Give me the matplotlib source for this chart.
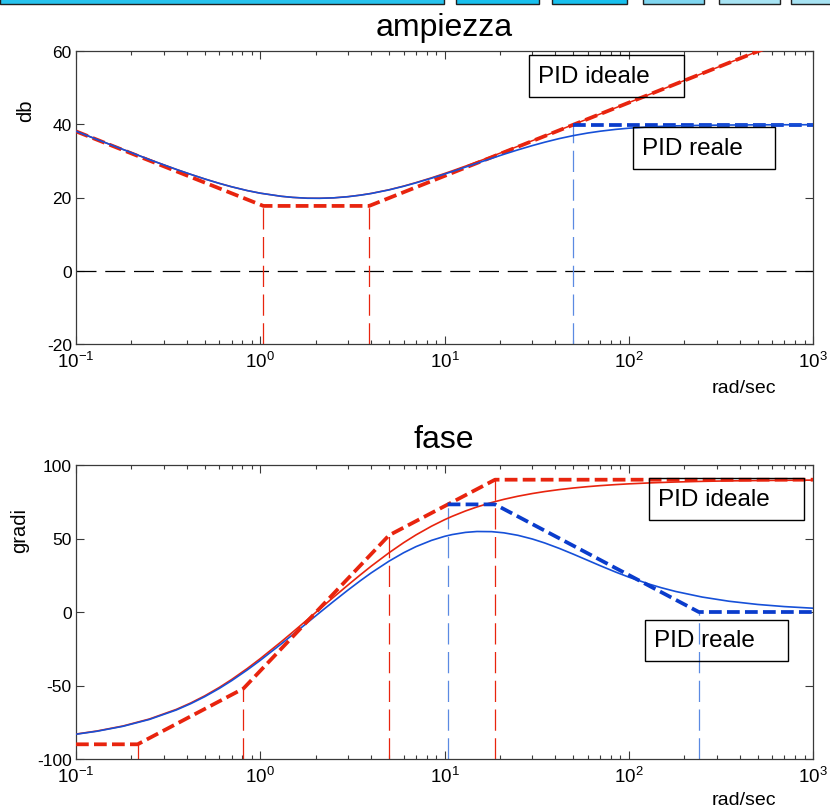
import numpy as np
import matplotlib
matplotlib.use("Agg")
import matplotlib.pyplot as plt
from matplotlib.patches import Rectangle
from matplotlib.ticker import LogLocator, FixedLocator, NullFormatter

plt.rcParams['font.family'] = ['Liberation Sans', 'DejaVu Sans']
plt.rcParams['mathtext.fontset'] = 'custom'
plt.rcParams['mathtext.rm'] = 'Liberation Sans'
plt.rcParams['mathtext.it'] = 'Liberation Sans:italic'
plt.rcParams['mathtext.bf'] = 'Liberation Sans:bold'
plt.rcParams['axes.unicode_minus'] = False

# ---- frequency response samples (rad/sec) ----
freq = [0.1, 0.13, 0.18, 0.25, 0.35, 0.42, 0.5, 0.6, 0.7, 0.85, 1, 1.3, 1.5, 1.8,
        2.1, 2.5, 3, 3.5, 4, 5, 6, 7, 8.5, 10, 11, 13, 15, 18, 21, 25, 30, 35, 42,
        50, 60, 70, 85, 100, 130, 150, 180, 250, 350, 500, 700, 1000]

mag_real = [38.1, 35.85, 33.12, 30.36, 27.68, 26.31, 25.06, 23.85, 22.92, 21.89,
            21.18, 20.33, 20.03, 19.80, 19.78, 19.90, 20.22, 20.64, 21.09, 22.08,
            23.06, 24.00, 25.26, 26.39, 27.07, 28.30, 29.35, 30.68, 31.80, 33.00,
            34.18, 35.10, 36.09, 36.90, 37.61, 38.10, 38.60, 38.92, 39.28, 39.42,
            39.56, 39.71, 39.79, 39.84, 39.86, 39.87]
mag_ideal = [38.1, 35.85, 33.12, 30.36, 27.68, 26.31, 25.06, 23.85, 22.92, 21.89,
             21.18, 20.33, 20.03, 19.81, 19.79, 19.91, 20.24, 20.66, 21.12, 22.12,
             23.12, 24.08, 25.38, 26.56, 27.28, 28.58, 29.72, 31.21, 32.51, 33.97,
             35.52, 36.83, 38.41, 39.91, 41.48, 42.81, 44.50, 45.91, 48.18, 49.42,
             51.01, 53.86, 56.78, 59.88, 62.80, 65.91]

phase_real = [-83.15, -81.11, -77.75, -73.10, -66.67, -62.33, -57.58, -51.96, -46.68,
              -39.42, -32.89, -21.72, -15.42, -7.30, -0.46, 7.21, 15.02, 21.35, 26.60,
              34.59, 40.31, 44.46, 48.72, 51.45, 52.67, 54.16, 54.76, 54.66, 53.86,
              52.18, 49.64, 46.95, 43.25, 39.35, 35.10, 31.50, 27.14, 23.74, 18.86,
              16.54, 13.95, 10.18, 7.32, 5.14, 3.68, 2.58]
phase_ideal = [-83.04, -80.96, -77.54, -72.81, -66.27, -61.85, -57.01, -51.27, -45.88,
               -38.45, -31.74, -20.23, -13.70, -5.24, 1.95, 10.07, 18.45, 25.35, 31.17,
               40.30, 47.15, 52.43, 58.37, 62.76, 65.08, 68.73, 71.46, 74.46, 76.64,
               78.75, 80.60, 81.94, 83.28, 84.35, 85.29, 85.96, 86.67, 87.17, 87.82,
               88.11, 88.43, 88.87, 89.19, 89.43, 89.59, 89.72]

# ---- asymptotic (straight-line) approximations ----
mag_ideal_asym_w = [0.1, 1.04, 3.9, 1000]
mag_ideal_asym_db = [38.06, 17.7, 17.7, 65.9]
mag_real_asym_w = [50, 1000]
mag_real_asym_db = [39.9, 39.9]

phase_ideal_asym_w = [0.1, 0.216, 0.81, 5.0, 18.8, 1000]
phase_ideal_asym_deg = [-90, -90, -52.1, 52.2, 90, 90]
phase_real_asym_w = [10.4, 18.8, 240, 1000]
phase_real_asym_deg = [73.2, 73.2, 0, 0]

# break frequencies marked with vertical guides
mag_breaks_ideal = [1.04, 3.9]
mag_breaks_real = [50]
phase_breaks_ideal = [0.216, 0.81, 5.0, 18.8]
phase_breaks_real = [10.4, 240]

mag_ticks = [-20, 0, 20, 40, 60]
phase_ticks = [-100, -50, 0, 50, 100]

RED = '#e8240e'
BLUE = '#0a3ccc'
BLUE_THIN = '#1650d8'
BLUE_GUIDE = '#5b8ae2'
SPINE = '#3a3a3a'

W, H = 830, 812
fig = plt.figure(figsize=(W / 100, H / 100), dpi=100)


def px_axes(x0, y0, x1, y1):
    return fig.add_axes([x0 / W, 1 - y1 / H, (x1 - x0) / W, (y1 - y0) / H])


def style_axes(ax, yticks):
    ax.set_xscale('log')
    ax.set_xlim(0.1, 1000)
    ax.set_ylim(yticks[0], yticks[-1])
    ax.xaxis.set_major_locator(LogLocator(base=10, numticks=10))
    ax.xaxis.set_minor_locator(LogLocator(base=10, subs=np.arange(2, 10), numticks=100))
    ax.xaxis.set_minor_formatter(NullFormatter())
    ax.yaxis.set_major_locator(FixedLocator(yticks))
    ax.tick_params(which='both', direction='in', top=True, right=True,
                   colors=SPINE, labelcolor='black', labelsize=12.5, width=0.8)
    ax.tick_params(which='major', length=5.5, pad=3)
    ax.tick_params(which='minor', length=3)
    ax.tick_params(axis='x', which='major', labelsize=13.5, pad=5)
    for s in ax.spines.values():
        s.set_color(SPINE)
        s.set_linewidth(0.9)


def guide(ax, w, top, bottom, color):
    ax.plot([w, w], [bottom, top], color=color, lw=0.9,
            linestyle=(0, (17, 6)), zorder=2)


def label_box(ax, x0, y0, x1, y1, text, ax_px):
    ax_x0, ax_y0, ax_x1, ax_y1 = ax_px
    aw, ah = ax_x1 - ax_x0, ax_y1 - ax_y0
    fx = (x0 - ax_x0) / aw
    fy = (ax_y1 - y1) / ah
    rect = Rectangle((fx, fy), (x1 - x0) / aw, (y1 - y0) / ah, transform=ax.transAxes,
                     facecolor='none', edgecolor='black', lw=1.0, zorder=6,
                     clip_on=False)
    ax.add_patch(rect)
    ax.text(fx + 9 / aw, fy + (y1 - y0) / ah / 2, text, transform=ax.transAxes,
            ha='left', va='center', fontsize=17.5, color='black', zorder=7)


# ---- header strip ----
header = [(0, 444, '#27c3ee'), (456, 539, '#18c0ee'), (552, 627, '#18c0ee'),
          (643, 704, '#7fd6f0'), (719, 780, '#a7e3f3'), (791, 840, '#a7e3f3')]
for x0, x1, c in header:
    fig.patches.append(Rectangle((x0 / W, 1 - 5 / H), (x1 - x0) / W, 10 / H,
                                 transform=fig.transFigure, facecolor=c,
                                 edgecolor='#202020', lw=1.0))

# ---- magnitude ----
top_px = (76, 52, 813, 345)
ax1 = px_axes(*top_px)
style_axes(ax1, mag_ticks)
ax1.axhline(0, color='black', lw=0.9, linestyle=(0, (16, 7)), zorder=2)
for w in mag_breaks_ideal:
    guide(ax1, w, np.interp(np.log10(w), np.log10(mag_ideal_asym_w), mag_ideal_asym_db),
          mag_ticks[0], RED)
for w in mag_breaks_real:
    guide(ax1, w, np.interp(np.log10(w), np.log10(mag_real_asym_w), mag_real_asym_db),
          mag_ticks[0], BLUE_GUIDE)
ax1.plot(freq, mag_ideal, color=RED, lw=1.1, zorder=3)
ax1.plot(mag_ideal_asym_w, mag_ideal_asym_db, color=RED, lw=2.7,
         linestyle=(0, (3.4, 1.4)), zorder=4)
ax1.plot(mag_real_asym_w, mag_real_asym_db, color=BLUE, lw=2.7,
         linestyle=(0, (3.4, 1.4)), zorder=4)
ax1.plot(freq, mag_real, color=BLUE_THIN, lw=1.2, zorder=5)
ax1.set_ylabel('db', fontsize=14.5)
ax1.yaxis.set_label_coords(-0.055, 0.80)
label_box(ax1, 529, 56, 684, 98, 'PID ideale', top_px)
label_box(ax1, 633, 128, 775, 170, 'PID reale', top_px)
fig.text(444 / W, 1 - 36 / H, 'ampiezza', ha='center', va='baseline', fontsize=23)
fig.text(744 / W, 1 - 389 / H, 'rad/sec', ha='center', va='center', fontsize=14)

# ---- phase ----
bot_px = (76, 466, 813, 760)
ax2 = px_axes(*bot_px)
style_axes(ax2, phase_ticks)
for w in phase_breaks_ideal:
    guide(ax2, w, np.interp(np.log10(w), np.log10(phase_ideal_asym_w), phase_ideal_asym_deg),
          phase_ticks[0], RED)
for w in phase_breaks_real:
    guide(ax2, w, np.interp(np.log10(w), np.log10(phase_real_asym_w), phase_real_asym_deg),
          phase_ticks[0], BLUE_GUIDE)
ax2.plot(freq, phase_ideal, color=RED, lw=1.2, zorder=3)
ax2.plot(freq, phase_real, color=BLUE_THIN, lw=1.2, zorder=3)
ax2.plot(phase_ideal_asym_w, phase_ideal_asym_deg, color=RED, lw=2.7,
         linestyle=(0, (3.4, 1.4)), zorder=4)
ax2.plot(phase_real_asym_w, phase_real_asym_deg, color=BLUE, lw=2.7,
         linestyle=(0, (3.4, 1.4)), zorder=4)
ax2.set_ylabel('gradi', fontsize=14.5)
ax2.yaxis.set_label_coords(-0.064, 0.78)
label_box(ax2, 649, 479, 804, 521, 'PID ideale', bot_px)
label_box(ax2, 645, 621, 788, 662, 'PID reale', bot_px)
fig.text(444 / W, 1 - 448 / H, 'fase', ha='center', va='baseline', fontsize=23)
fig.text(744 / W, 1 - 801 / H, 'rad/sec', ha='center', va='center', fontsize=14)

fig.savefig('out.png', dpi=100, facecolor='white')
